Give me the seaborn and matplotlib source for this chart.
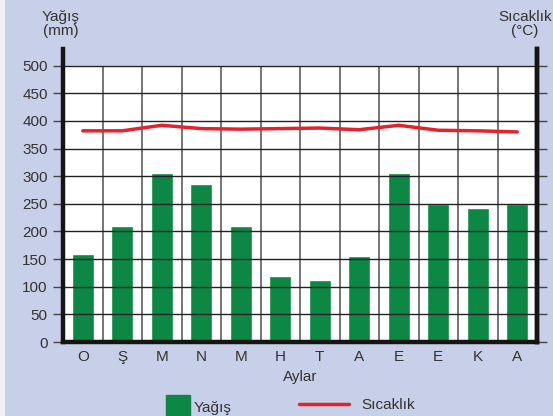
import matplotlib
matplotlib.use("Agg")
import matplotlib.pyplot as plt
import matplotlib.patches as mpatches
from matplotlib.lines import Line2D
import numpy as np
import pandas as pd
import seaborn as sns

# Monthly data (months start in October)
months = ["O", "Ş", "M", "N", "M", "H", "T", "A", "E", "E", "K", "A"]
rainfall_mm = [160, 210, 305, 285, 210, 120, 112, 155, 305, 250, 242, 250]
temperature_c = [38.2, 38.2, 39.2, 38.6, 38.5, 38.6, 38.7, 38.4, 39.2, 38.3, 38.2, 38.0]
rain_ticks = [0, 50, 100, 150, 200, 250, 300, 350, 400, 450, 500]
temp_ticks = [0, 5, 10, 15, 20, 25, 30, 35, 40, 45, 50]

BG = "#c8cfe8"
GREEN = "#0c8744"
RED = "#e5222b"
INK = "#333333"

sns.set_theme(style="white")
plt.rcParams["font.family"] = ["Liberation Sans", "DejaVu Sans"]

df = pd.DataFrame({"idx": np.arange(len(months)), "rain": rainfall_mm, "temp": temperature_c})

fig = plt.figure(figsize=(5.53, 4.16), dpi=100)
fig.patch.set_facecolor(BG)
fig.patches.append(mpatches.Rectangle((0, 0), 5 / 553, 1, transform=fig.transFigure,
                                      facecolor="#eef0f6", edgecolor="none", zorder=-5))

ax = fig.add_axes([63 / 553, 1 - 342 / 416, (537 - 63) / 553, (342 - 49) / 416])
ax.set_facecolor(BG)

ymax = rain_ticks[-1] * 1.06
ax.set_xlim(-0.5, len(months) - 0.5)
ax.set_ylim(0, ymax)

# white plotting field up to the top tick
ax.axhspan(0, rain_ticks[-1], color="white", zorder=0)

sns.barplot(data=df, x="idx", y="rain", color=GREEN, width=0.56, saturation=1,
            ax=ax, zorder=2, native_scale=True)
ax.set_xlim(-0.5, len(months) - 0.5)
ax.set_ylim(0, ymax)

# grid
ax.hlines(rain_ticks[1:], -0.5, len(months) - 0.5, colors="#222222", lw=1.0, zorder=3)
bounds = np.arange(len(months) + 1) - 0.5
ax.vlines(bounds[1:-1], 0, rain_ticks[-1], colors="#6a6a6a", lw=1.3, zorder=1)

ax.set_yticks(rain_ticks)
ax.set_yticklabels([str(t) for t in rain_ticks])
ax.set_xticks(np.arange(len(months)))
ax.set_xticklabels(months)
ax.set_xticks(bounds, minor=True)
ax.tick_params(axis="x", which="major", length=0, pad=6, labelsize=11, labelcolor=INK)
ax.tick_params(axis="x", which="minor", length=5, width=1, color="#444", direction="out")
ax.tick_params(axis="y", length=7, width=1, color="#444", pad=4, labelsize=11, labelcolor=INK, left=True)
ax.set_xlabel("Aylar", fontsize=11, color=INK, labelpad=4)
ax.set_ylabel("")

for side in ["left", "bottom", "right"]:
    ax.spines[side].set_visible(True)
    ax.spines[side].set_color("#151515")
    ax.spines[side].set_linewidth(3.2)
    ax.spines[side].set_zorder(5)
ax.spines["top"].set_visible(False)

# temperature on the secondary axis
ax2 = ax.twinx()
sns.lineplot(data=df, x="idx", y="temp", color=RED, lw=2.5, ax=ax2, zorder=4)
ax2.set_ylim(0, temp_ticks[-1] * 1.06)
ax2.set_xlim(-0.5, len(months) - 0.5)
ax2.set_yticks(temp_ticks)
ax2.set_yticklabels([])
ax2.set_ylabel("")
ax2.tick_params(axis="y", length=7, width=1, color="#444", right=True)
for side in ["left", "bottom", "top"]:
    ax2.spines[side].set_visible(False)
ax2.spines["right"].set_color("#151515")
ax2.spines["right"].set_linewidth(3.2)

# axis titles
fig.text(61 / 553, 1 - 24 / 416, "Yağış\n(mm)", ha="center", va="center",
         fontsize=11, color=INK, linespacing=0.95)
fig.text(552 / 553, 1 - 24 / 416, "Sıcaklık\n(°C)", ha="right", va="center",
         fontsize=11, color=INK, linespacing=0.95, multialignment="center")

# legend
sq = Line2D([], [], marker="s", markersize=17, color=GREEN, linestyle="none")
ln = Line2D([], [], color=RED, lw=2.5)
leg1 = fig.legend([sq], ["Yağış"], loc="center", bbox_to_anchor=(200 / 553, 1 - 408 / 416),
                  frameon=False, fontsize=11, handlelength=1.2, handletextpad=0.4,
                  labelcolor=INK)
leg2 = fig.legend([ln], ["Sıcaklık"], loc="center", bbox_to_anchor=(357 / 553, 1 - 405 / 416),
                  frameon=False, fontsize=11, handlelength=3.3, handletextpad=0.8,
                  labelcolor=INK)

fig.savefig("out.png", dpi=100, facecolor=BG)
